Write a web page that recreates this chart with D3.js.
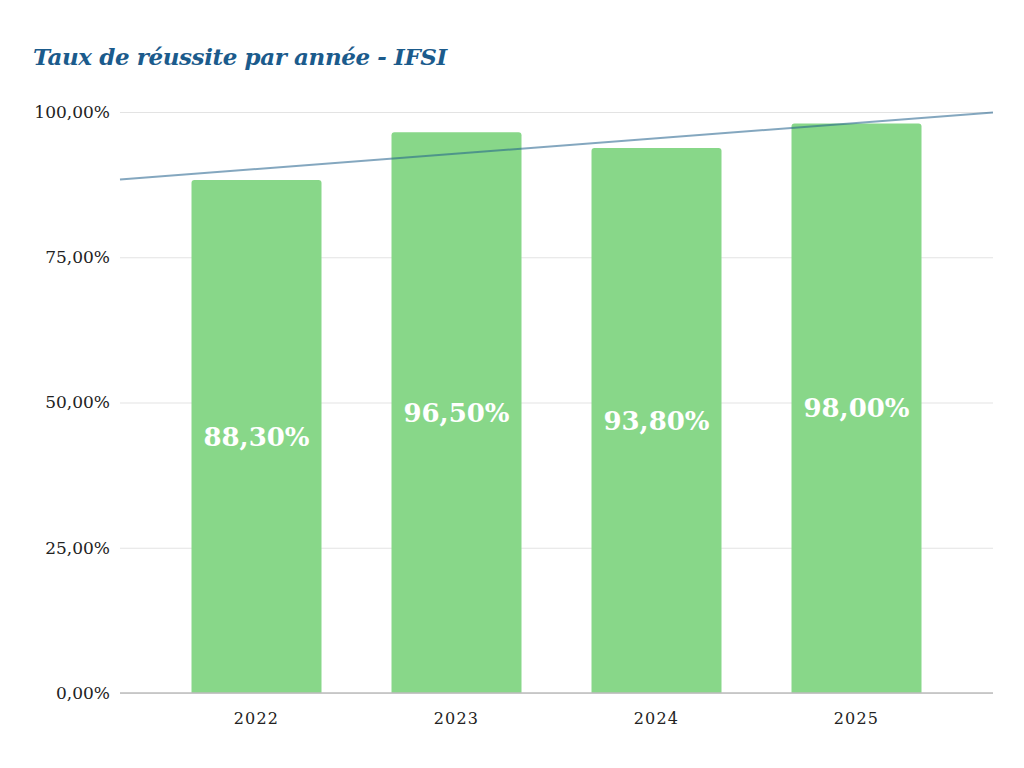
<!DOCTYPE html>
<html>
<head>
<meta charset="utf-8">
<script src="https://cdn.jsdelivr.net/npm/d3@7"></script>
<style>
  body { margin: 0; background: #fff; }
  svg text { font-family: "DejaVu Serif", "Liberation Serif", serif; }
</style>
</head>
<body>
<div id="chart"></div>
<script>
// Data
const years = ['2022', '2023', '2024', '2025'];
const rates = [88.3, 96.5, 93.8, 98.0];
const yTicks = [0, 25, 50, 75, 100];

const W = 1024, H = 768;
const plot = { left: 120, right: 993, top: 112, bottom: 693 };

const fmt = (v) => v.toFixed(2).replace('.', ',') + '%';

const svg = d3.select('#chart')
    .append('svg')
    .attr('width', W)
    .attr('height', H);

// Title
svg.append('text')
    .attr('x', 33)
    .attr('y', 65)
    .attr('fill', '#1b5b8c')
    .attr('font-size', 23)
    .attr('font-weight', 'bold')
    .attr('font-style', 'italic')
    .attr('letter-spacing', -0.4)
    .text('Taux de réussite par année - IFSI');

const x = d3.scaleBand()
    .domain(years)
    .range([plot.left, plot.right])
    .paddingInner(0.35)
    .paddingOuter(0.3575);

const y = d3.scaleLinear()
    .domain([0, 100])
    .range([plot.bottom, plot.top]);

// Gridlines + y labels
const yAxis = svg.append('g')
    .attr('transform', `translate(${plot.left},0)`)
    .call(d3.axisLeft(y).tickValues(yTicks).tickSize(-(plot.right - plot.left)).tickFormat(fmt).tickPadding(10));
yAxis.select('.domain').remove();
yAxis.selectAll('.tick line').attr('stroke', '#e3e3e3');
yAxis.selectAll('.tick text').attr('fill', '#222').attr('font-size', 17);

// Bars (rounded top corners)
const r = 3;
svg.selectAll('path.bar')
    .data(rates)
    .enter()
    .append('path')
    .attr('class', 'bar')
    .attr('fill', '#88d789')
    .attr('d', (d, i) => {
        const x0 = x(years[i]), w = x.bandwidth(), y0 = y(d), y1 = y(0);
        return `M${x0},${y1}V${y0 + r}Q${x0},${y0} ${x0 + r},${y0}H${x0 + w - r}Q${x0 + w},${y0} ${x0 + w},${y0 + r}V${y1}Z`;
    });

// Baseline
svg.append('line')
    .attr('x1', plot.left).attr('x2', plot.right)
    .attr('y1', y(0)).attr('y2', y(0))
    .attr('stroke', '#bdbdbd')
    .attr('stroke-width', 1.5);

// X labels
svg.selectAll('text.xlab')
    .data(years)
    .enter()
    .append('text')
    .attr('class', 'xlab')
    .attr('x', (d) => x(d) + x.bandwidth() / 2)
    .attr('y', 724)
    .attr('text-anchor', 'middle')
    .attr('fill', '#222')
    .attr('font-size', 16)
    .attr('letter-spacing', 1.2)
    .text((d) => d);

// Linear trendline across the full plot width
const xi = years.map((_, i) => i + 1);
const mx = d3.mean(xi), my = d3.mean(rates);
const slope = d3.sum(xi, (v, i) => (v - mx) * (rates[i] - my)) / d3.sum(xi, (v) => (v - mx) ** 2);
const step = x.step();
const c1 = x(years[0]) + x.bandwidth() / 2;
const idxAt = (px) => 1 + (px - c1) / step;
const trendAt = (px) => my + slope * (idxAt(px) - mx);

svg.append('line')
    .attr('x1', plot.left).attr('y1', y(trendAt(plot.left)))
    .attr('x2', plot.right).attr('y2', y(trendAt(plot.right)))
    .attr('stroke', '#1f5f8b')
    .attr('stroke-opacity', 0.55)
    .attr('stroke-width', 2);

// Value labels inside bars
svg.selectAll('text.val')
    .data(rates)
    .enter()
    .append('text')
    .attr('class', 'val')
    .attr('x', (d, i) => x(years[i]) + x.bandwidth() / 2)
    .attr('y', (d) => (y(d) + y(0)) / 2)
    .attr('dy', '0.35em')
    .attr('text-anchor', 'middle')
    .attr('fill', '#fff')
    .attr('font-size', 26)
    .attr('font-weight', 'bold')
    .text((d) => fmt(d));
</script>
</body>
</html>
